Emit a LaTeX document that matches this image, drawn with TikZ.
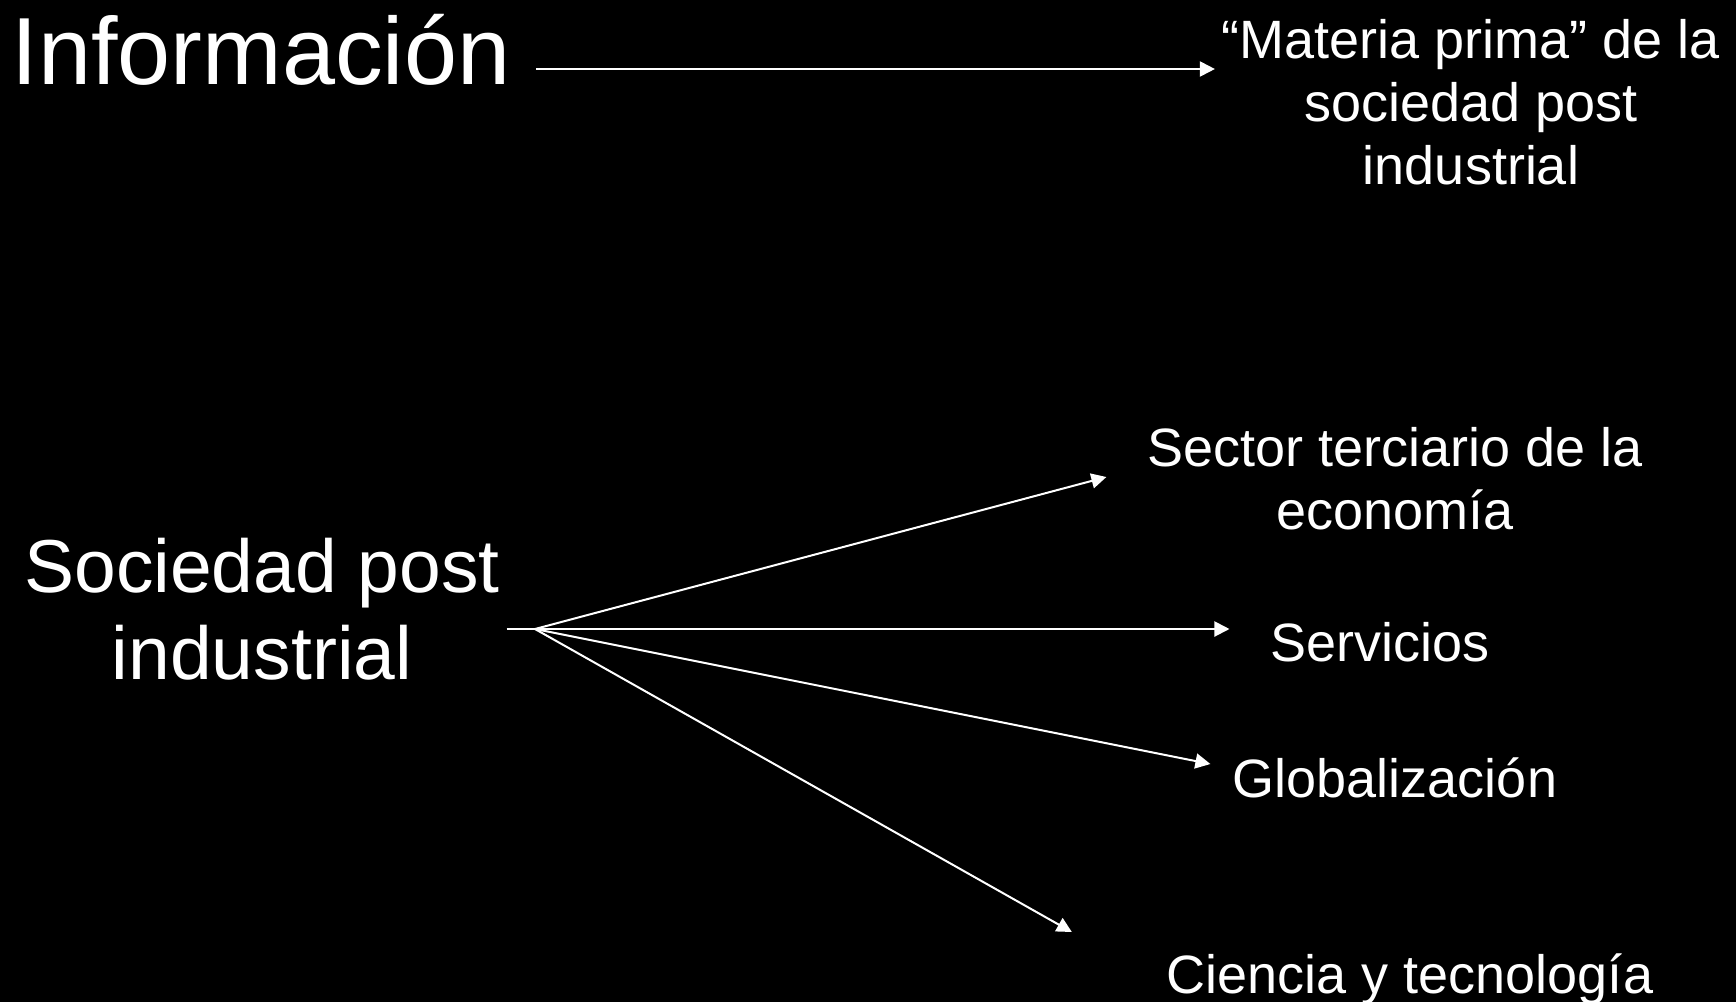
\documentclass[tikz,border=0pt]{standalone}
\usepackage{fontspec}
\setmainfont{Liberation Sans}
\usetikzlibrary{arrows.meta}

\begin{document}
\begin{tikzpicture}[x=0.5pt,y=-0.5pt,>={Triangle[length=7.5pt,width=7.5pt]},line width=1pt,
        every node/.style={text=white,align=center,anchor=base,inner sep=0pt},
        titlefont/.style={font=\fontsize{47.7}{56}\selectfont},
        midfont/.style={font=\fontsize{37.5}{43.5}\selectfont},
        leaffont/.style={font=\fontsize{27}{31.5}\selectfont}]
        % background and page size
        \fill[black] (0,0) rectangle (1736,1002);
        \useasboundingbox (0,0) rectangle (1736,1002);
        % base = baseline of the last line
        \node[titlefont](info) at (261,84) {Información};
        \node[leaffont](materia) at (1471,184) {“Materia prima” de la\\sociedad post\\industrial};
        \node[midfont](soc) at (262,679) {Sociedad post\\industrial};
        \node[leaffont](sector) at (1395,529) {Sector terciario de la\\economía};
        \node[leaffont](serv) at (1380,661) {Servicios};
        \node[leaffont](glob) at (1395,797) {Globalización};
        \node[leaffont](ciencia) at (1410,993) {Ciencia y tecnología};
        \coordinate (fan) at (535,629);
        % \draw[->] (info) -- (materia);
        \draw[white,->] ([shift={(25,-15)}]info.base east) -- ([shift={(-6,-115)}]materia.base west);
        \draw[white,->] ([xshift=3pt]soc.east |- fan) -- ([xshift=-20pt]serv.west |- fan);
        \draw[white,->] (fan) -- ([shift={(-40,-52)}]sector.base west);
        \draw[white,->] (fan) -- ([shift={(-21.5,-33)}]glob.base west);
        \draw[white,->] (fan) -- ([shift={(-94,-61)}]ciencia.base west);
\end{tikzpicture}
\end{document}
